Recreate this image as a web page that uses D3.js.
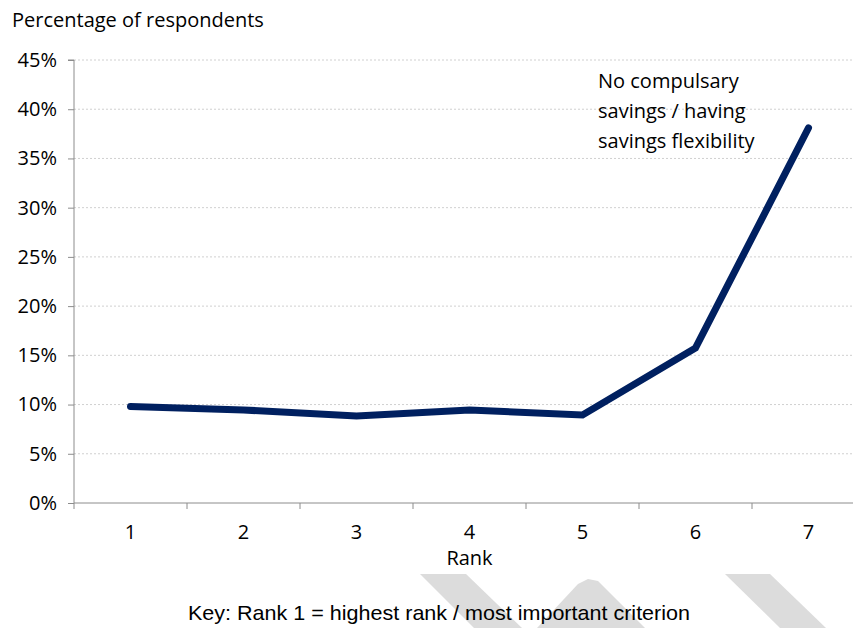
<!DOCTYPE html>
<html><head><meta charset="utf-8">
<script src="https://cdn.jsdelivr.net/npm/d3@7"></script>
<style>body{margin:0;background:#fff}svg{display:block}</style>
</head><body>
<svg id="c" width="853" height="628"></svg>
<script>
const ranks = ["1","2","3","4","5","6","7"];
const values = [9.8, 9.45, 8.85, 9.45, 8.95, 15.75, 38.1];
const yTicks = [0,5,10,15,20,25,30,35,40,45];
const annotation = ["No compulsary","savings / having","savings flexibility"];
const yTitle = "Percentage of respondents";
const xTitle = "Rank";
const keyText = "Key: Rank 1 = highest rank / most important criterion";

const svg = d3.select("#c");
const font = "'Open Sans', Lato, sans-serif";
const fs = 20;
const pLeft = 74, pRight = 865, pTop = 60, pBottom = 503;

// watermark shapes
const wm = [
  [[420,574],[466,574],[522,628],[474,628]],
  [[537,628],[578,584],[588,579],[598,581],[645,628]],
  [[725,574],[770,574],[826,628],[780,628]]
];
svg.selectAll("polygon.wm").data(wm).enter().append("polygon")
  .attr("points", d => d.map(p => p.join(",")).join(" "))
  .attr("fill", "#dcdcdc");

const x = d3.scaleBand().domain(ranks).range([pLeft, pRight]).padding(0);
const y = d3.scaleLinear().domain([0,45]).range([pBottom, pTop]);

// gridlines
svg.append("g").selectAll("line").data(yTicks.filter(t => t > 0)).enter().append("line")
  .attr("x1", pLeft).attr("x2", pRight)
  .attr("y1", d => y(d)).attr("y2", d => y(d))
  .attr("stroke", "#d0d0d0").attr("stroke-width", 1).attr("stroke-dasharray", "2,2");

// y axis
const yAxis = d3.axisLeft(y).tickValues(yTicks).tickFormat(d => d + "%").tickSize(6).tickPadding(11);
const gy = svg.append("g").attr("transform", `translate(${pLeft},0)`).call(yAxis);
gy.select(".domain").attr("stroke", "#8c8c8c").attr("d", `M-6,${pTop}H0V${pBottom}`);
gy.selectAll(".tick line").attr("stroke", "#8c8c8c");
gy.selectAll("text").attr("font-family", font).attr("font-size", fs).attr("fill", "#000");

// x axis
const xAxis = d3.axisBottom(x).tickSize(0).tickPadding(22);
const gx = svg.append("g").attr("transform", `translate(0,${pBottom})`).call(xAxis);
gx.select(".domain").attr("stroke", "#8c8c8c").attr("d", `M${pLeft},0H${pRight}`);
gx.selectAll("text").attr("font-family", font).attr("font-size", fs).attr("fill", "#000");
gx.selectAll(".bt").data(ranks).enter().append("line")
  .attr("x1", d => x(d)).attr("x2", d => x(d)).attr("y1", 0).attr("y2", 6)
  .attr("stroke", "#8c8c8c");

// line
const line = d3.line().x((d,i) => x(ranks[i]) + x.bandwidth()/2).y(d => y(d));
svg.append("path").datum(values).attr("d", line)
  .attr("fill", "none").attr("stroke", "#002060").attr("stroke-width", 7)
  .attr("stroke-linecap", "round").attr("stroke-linejoin", "miter");

// titles
svg.append("text").attr("x", 12).attr("y", 27).text(yTitle)
  .attr("font-family", font).attr("font-size", fs).attr("fill", "#000");
svg.append("text").attr("x", x("4") + x.bandwidth()/2).attr("y", 565).attr("text-anchor", "middle")
  .text(xTitle).attr("font-family", font).attr("font-size", fs).attr("fill", "#000");
svg.append("text").attr("x", 439).attr("y", 620).attr("text-anchor", "middle")
  .text(keyText).attr("font-family", "'Liberation Sans', Arial, sans-serif").attr("font-size", 21)
  .attr("fill", "#000").attr("textLength", 502).attr("lengthAdjust", "spacingAndGlyphs");

svg.append("g").selectAll("text").data(annotation).enter().append("text")
  .attr("x", 598).attr("y", (d,i) => 88 + i*30).text(d => d)
  .attr("font-family", font).attr("font-size", fs).attr("fill", "#000");
</script>
</body></html>
